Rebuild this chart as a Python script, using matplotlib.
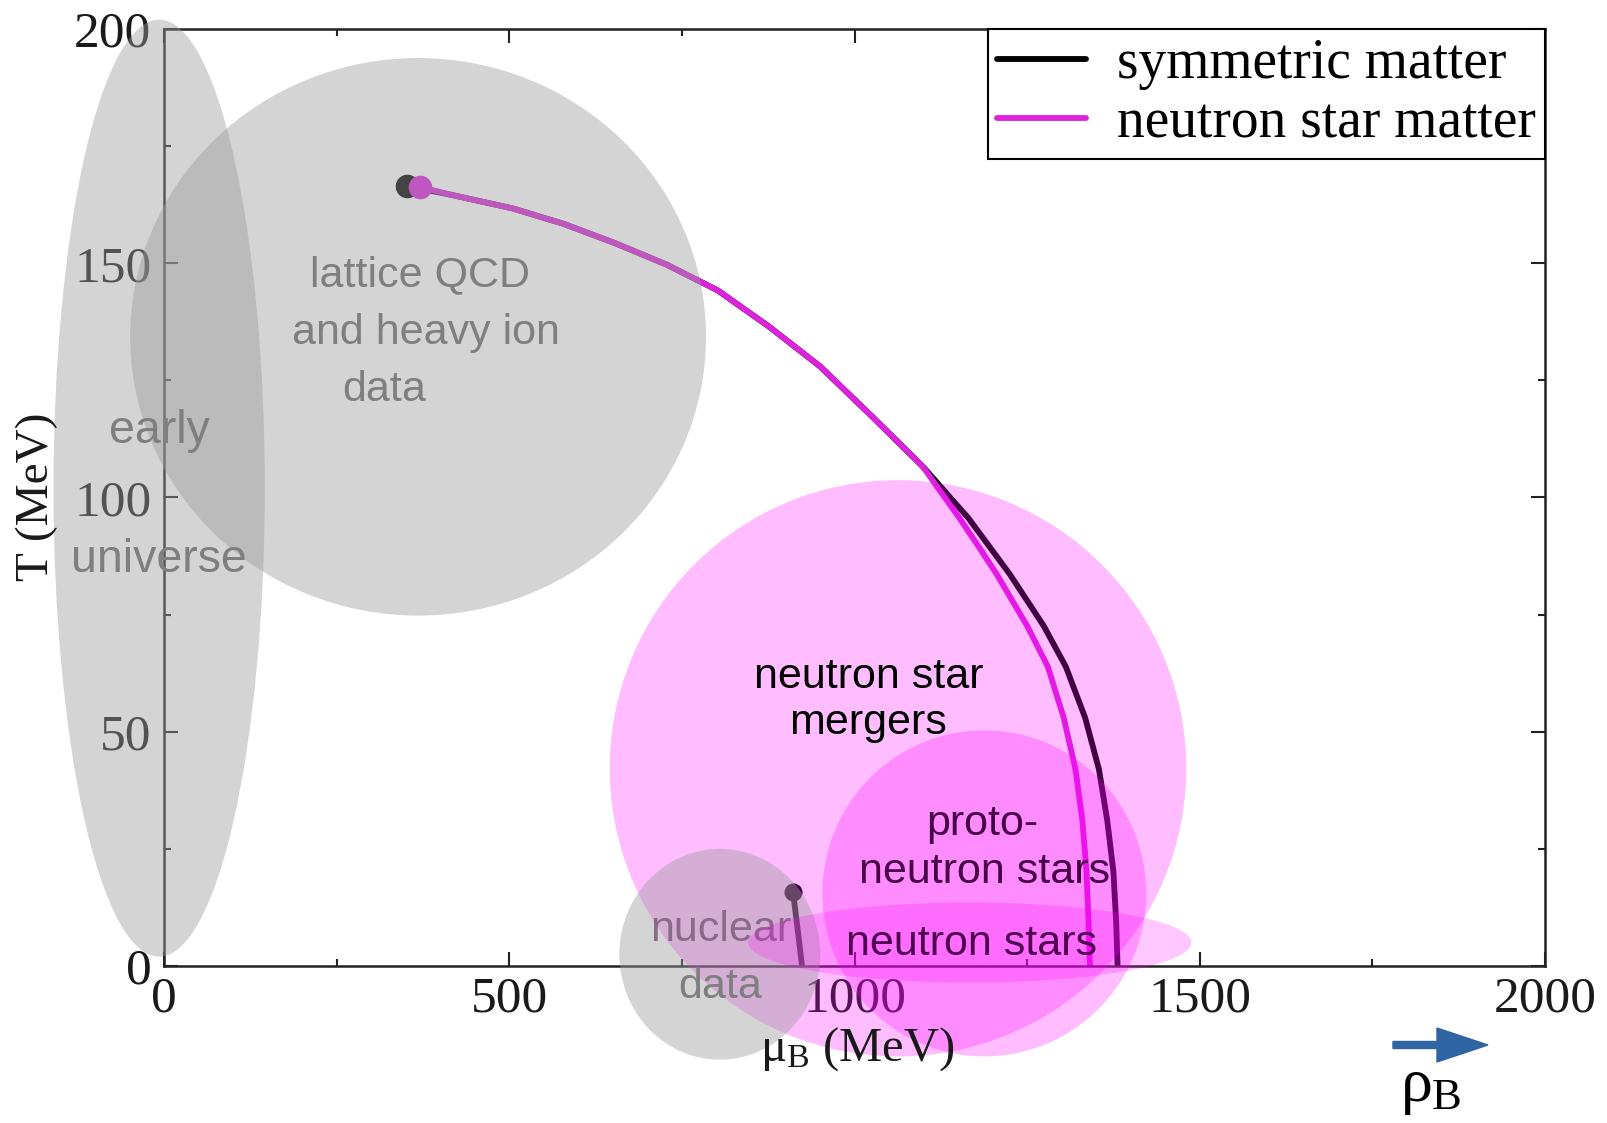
import matplotlib
matplotlib.use("Agg")
import matplotlib.pyplot as plt
from matplotlib.patches import Ellipse, FancyArrow
from matplotlib.ticker import MultipleLocator

# ---------------- data ----------------
sym_mu = [352, 416, 505, 579, 653, 728, 802, 876, 950, 1024, 1099, 1165, 1225, 1274,
          1306, 1334, 1354, 1366, 1375, 1379, 1381]
sym_T = [166.5, 164.6, 161.7, 158.4, 154.3, 149.7, 144.2, 136.5, 128.0, 117.5, 106.6,
         95.6, 83.6, 72.6, 63.9, 53.0, 42.0, 31.1, 20.1, 9.2, 0.0]

nsm_mu = [371, 416, 505, 579, 653, 728, 802, 876, 950, 1024, 1099, 1152, 1183, 1206,
          1250, 1280, 1303, 1320, 1330, 1336, 1339, 1341]
nsm_T = [166.3, 164.6, 161.7, 158.4, 154.3, 149.7, 144.2, 136.5, 128.0, 117.5, 106.6,
         95.6, 88.8, 83.6, 72.6, 63.9, 53.0, 42.0, 31.1, 20.1, 9.2, 0.0]

nuc_mu = [911, 915, 920, 924]
nuc_T = [15.8, 11.0, 5.0, 0.0]

region_names = ["early universe", "lattice QCD", "mergers", "nuclear data", "proto-neutron stars", "neutron stars"]
region_mu = [-7, 368, 1063, 805, 1188, 1167]
region_T = [102, 134.3, 42.2, 2.5, 15.5, 5.0]
region_dmu = [306, 834, 835, 291, 469, 642]
region_dT = [200, 119, 123, 45, 69.6, 17.1]

x_ticks = [0, 500, 1000, 1500, 2000]
y_ticks = [0, 50, 100, 150, 200]

# ---------------- style ----------------
plt.rcParams["mathtext.fontset"] = "custom"
plt.rcParams["mathtext.rm"] = "Liberation Serif"
plt.rcParams["mathtext.it"] = "Liberation Serif"
plt.rcParams["mathtext.bf"] = "Liberation Serif:bold"

SERIF = "Liberation Serif"
SANS = "Liberation Sans"
MAG = "#dd22dd"

fig = plt.figure(figsize=(16.08, 11.23), dpi=100)
W, H = 1608, 1123
ax = fig.add_axes([164 / W, 1 - 966 / H, (1545 - 164) / W, (966 - 29) / H])
ax.set_xlim(0, 2000)
ax.set_ylim(0, 200)

# curves
ax.plot(sym_mu, sym_T, color="black", lw=4.2, zorder=2, label="symmetric matter",
        solid_capstyle="round", solid_joinstyle="round")
ax.plot(sym_mu[0], sym_T[0], "o", color="black", ms=16, zorder=2)
ax.plot(nsm_mu, nsm_T, color=MAG, lw=4.2, zorder=2.1, label="neutron star matter",
        solid_capstyle="round", solid_joinstyle="round")
ax.plot(nsm_mu[0], nsm_T[0], "o", color=MAG, ms=16, zorder=2.1)
ax.plot(nuc_mu, nuc_T, color="black", lw=4.2, zorder=2, solid_joinstyle="round")
ax.plot(nuc_mu[0], nuc_T[0], "o", color="black", ms=12, zorder=2)

# regions
styles = [
    ("#9d9d9d", 0.44, 3.0),
    ("#9d9d9d", 0.44, 3.0),
    ("#ff00ff", 0.26, 3.1),
    ("#9d9d9d", 0.44, 3.2),
    ("#ff00ff", 0.26, 3.3),
    ("#ff00ff", 0.22, 3.4),
]
for i in range(len(region_names)):
    fc, a, z = styles[i]
    ax.add_patch(Ellipse((region_mu[i], region_T[i]), region_dmu[i], region_dT[i],
                         facecolor=fc, edgecolor="none", alpha=a, zorder=z, clip_on=False))

# region labels
GRAY = "#7f7f7f"
tk = dict(ha="center", va="center", family=SANS, zorder=6)
ax.text(-7, 114.2, "early", color=GRAY, fontsize=33.5, **tk)
ax.text(-7, 86.6, "universe", color=GRAY, fontsize=33.5, **tk)
ax.text(371, 147.5, "lattice QCD", color=GRAY, fontsize=31, **tk)
ax.text(379, 135.1, "and heavy ion", color=GRAY, fontsize=31, **tk)
ax.text(319, 123.0, "data", color=GRAY, fontsize=31, **tk)
ax.text(1020, 61.7, "neutron star", color="black", fontsize=31, **tk)
ax.text(1020, 51.9, "mergers", color="black", fontsize=31, **tk)
ax.text(1185, 30.4, "proto-", color="#480048", fontsize=31, **tk)
ax.text(1188, 20.1, "neutron stars", color="#480048", fontsize=31, **tk)
ax.text(1170, 4.8, "neutron stars", color="#500050", fontsize=31, **tk)
ax.text(806, 7.7, "nuclear", color="#8a6a8a", fontsize=31,
        ha="center", va="center", family=SANS, zorder=3.35)
ax.text(806, -4.4, "data", color=GRAY, fontsize=31,
        ha="center", va="center", family=SANS, zorder=3.35)

# axes styling
ax.set_xticks(x_ticks)
ax.set_yticks(y_ticks)
ax.xaxis.set_minor_locator(MultipleLocator(250))
ax.yaxis.set_minor_locator(MultipleLocator(25))
ax.tick_params(which="both", direction="in", top=True, right=True, colors="#222222",
               width=1.5)
ax.tick_params(which="major", length=10)
ax.tick_params(which="minor", length=5)
ax.tick_params(axis="x", which="major", pad=7)
ax.tick_params(axis="y", which="major", pad=9)
for lab in ax.get_xticklabels() + ax.get_yticklabels():
    lab.set_family(SERIF)
    lab.set_fontsize(37)
    lab.set_color("#1a1a1a")
for sp in ax.spines.values():
    sp.set_linewidth(1.8)
    sp.set_color("#222222")

leg = ax.legend(loc="upper right", bbox_to_anchor=(1, 1), borderaxespad=0,
                prop={"family": SERIF, "size": 40}, frameon=True, fancybox=False,
                edgecolor="black", framealpha=1, handlelength=1.6, handletextpad=0.55,
                borderpad=0.17, labelspacing=0.12)
leg.get_frame().set_linewidth(1.5)
leg.set_zorder(10)

fig.text(857 / W, 1 - 1049 / H, r"$\mu_\mathrm{B}$ (MeV)", ha="center", va="center",
         fontsize=35, family=SERIF, color="#1a1a1a")
fig.text(37 / W, 1 - 497 / H, "T (MeV)", ha="center", va="center", rotation=90,
         fontsize=34, family=SERIF, color="#1a1a1a")

# density arrow
fig.add_artist(FancyArrow(13.93, (H - 1045) / 100, 0.95, 0, width=0.07, head_width=0.34,
                          head_length=0.51, length_includes_head=True,
                          color="#2f64a5", transform=fig.dpi_scale_trans))
fig.text(1431 / W, 1 - 1086 / H, r"$\rho_\mathrm{B}$", ha="center", va="center",
         fontsize=46, color="black")

fig.savefig("out.png", dpi=100)
